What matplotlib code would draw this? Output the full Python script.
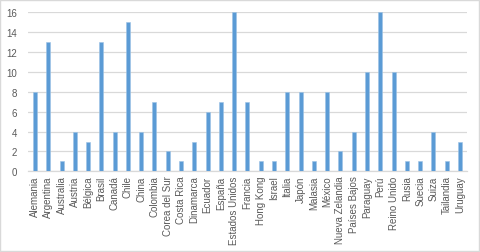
import matplotlib.pyplot as plt
import numpy as np

paises = ['Alemania', 'Argentina', 'Australia', 'Austria', 'Bélgica', 'Brasil', 'Canadá',
          'Chile', 'China', 'Colombia', 'Corea del Sur', 'Costa Rica', 'Dinamarca',
          'Ecuador', 'España', 'Estados Unidos', 'Francia', 'Hong Kong', 'Israel',
          'Italia', 'Japón', 'Malasia', 'México', 'Nueva Zelandia', 'Países Bajos',
          'Paraguay', 'Perú', 'Reino Unido', 'Rusia', 'Suecia', 'Suiza', 'Tailandia',
          'Uruguay']
valores = [8, 13, 1, 4, 3, 13, 4, 15, 4, 7, 2, 1, 3, 6, 7, 16, 7, 1, 1, 8, 8, 1, 8, 2, 4,
           10, 16, 10, 1, 1, 4, 1, 3]
yticks = [0, 2, 4, 6, 8, 10, 12, 14, 16]

plt.rcParams['font.family'] = ['Liberation Sans', 'DejaVu Sans']

fig = plt.figure(figsize=(4.8, 2.53), dpi=100)
ax = fig.add_axes([0.059, 0.319, 0.913, 0.628])

x = np.arange(len(paises))
ax.bar(x, valores, width=0.3, color='#5B9BD5', edgecolor='#9DC3E6', linewidth=0.4, zorder=3)

ax.set_xlim(-0.5, len(paises) - 0.5)
ax.set_ylim(0, 16)
ax.set_yticks(yticks)
ax.set_xticks(x)
ax.set_xticklabels(paises, rotation=90, fontsize=7, color='#595959')
ax.tick_params(axis='y', labelsize=7, labelcolor='#595959', length=0, pad=8)
ax.tick_params(axis='x', length=0, pad=3)

ax.grid(axis='y', color='#D9D9D9', linewidth=0.9, zorder=0)
for s in ['top', 'right', 'left']:
    ax.spines[s].set_visible(False)
ax.spines['bottom'].set_color('#D9D9D9')
ax.spines['bottom'].set_linewidth(0.9)

# borde del gráfico
fig.patches.append(plt.Rectangle((0.001, 0.002), 0.997, 0.995, transform=fig.transFigure,
                                 fill=False, edgecolor='#D9D9D9', linewidth=1))

fig.savefig('out.png', dpi=100)
